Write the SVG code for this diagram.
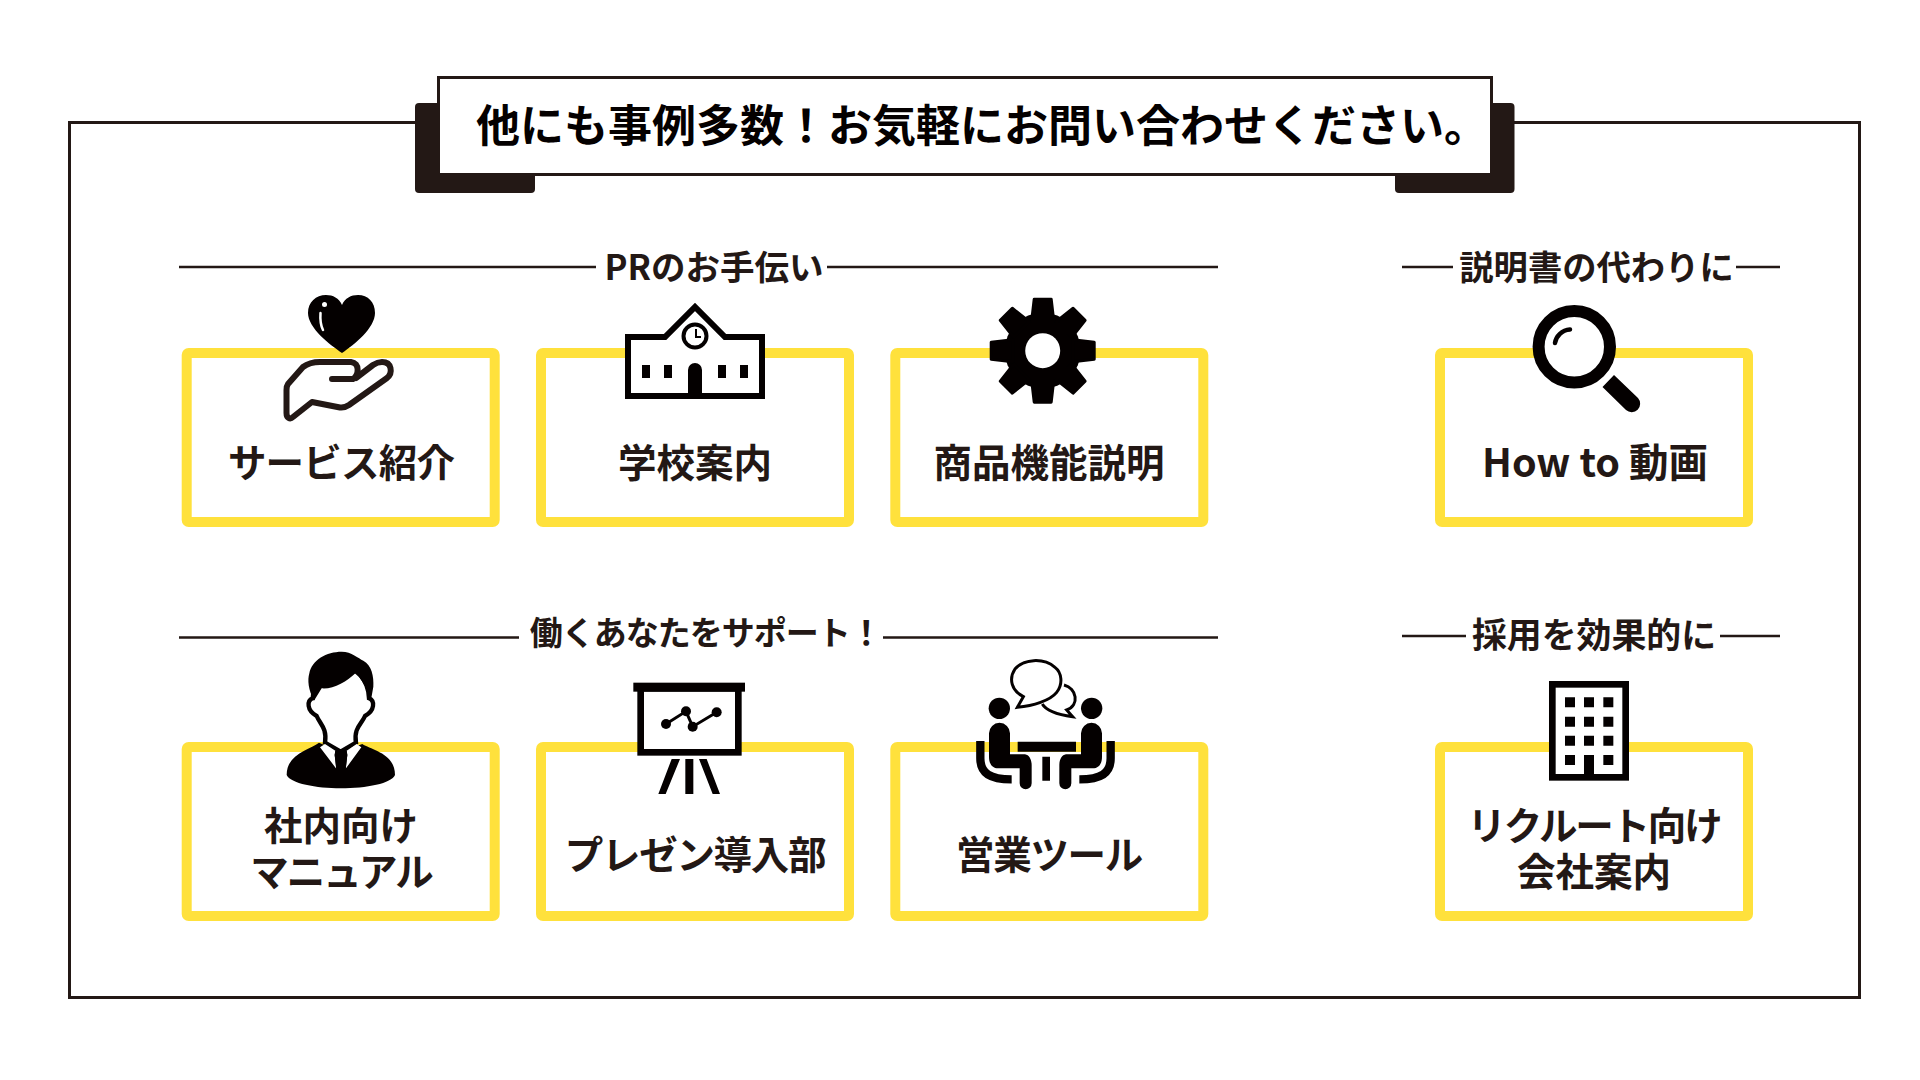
<svg xmlns="http://www.w3.org/2000/svg" width="1920" height="1080" viewBox="0 0 1920 1080">
<style>
text{font-family:"Noto Sans CJK JP","Noto Sans",sans-serif;font-weight:700;fill:#231815;text-anchor:middle}
.t{font-size:38.500px}
.s{font-size:34.300px}
.box{fill:#fff;stroke:#ffe13c;stroke-width:10}
.rule{stroke:#231815;stroke-width:2.500;fill:none}
.k{fill:#040000}
.w{fill:#fff}
.ol{fill:#fff;stroke:#040000}
</style>
<defs>
<rect id="ybox" class="box" x="0" y="0" width="308" height="169" rx="2"/>
<polygon id="tooth" class="k" stroke="#040000" stroke-width="3" stroke-linejoin="round" points="-8.500,-51.500 8.500,-51.500 11,-30 -11,-30"/>
</defs>
<rect width="1920" height="1080" fill="#fff"/>
<g id="frame">
<rect x="69.500" y="122.500" width="1790" height="875" fill="none" stroke="#231815" stroke-width="3"/>
</g>
<g id="title">
<rect x="415" y="103" width="120" height="90" rx="4" fill="#231815"/>
<rect x="1395" y="103" width="119.500" height="90" rx="4" fill="#231815"/>
<rect x="438.500" y="77.500" width="1053" height="97" fill="#fff" stroke="#231815" stroke-width="3"/>
<text x="982" y="142" style="font-size:44px;fill:#040000">他にも事例多数！お気軽にお問い合わせください。</text>
</g>
<g id="connectors">
<path class="rule" d="M179 267H596M827 267H1218M1402 267H1453M1736 267H1780M179 637.500H519M883 637.500H1218M1402 636H1466M1720 636H1780"/>
</g>
<g id="section-labels">
<text class="s" x="714" y="280" style="font-size:34.500px">PRのお手伝い</text>
<text class="s" x="1596.500" y="280">説明書の代わりに</text>
<text class="s" x="705.700" y="645" style="font-size:33px;letter-spacing:-1px">働くあなたをサポート！</text>
<text class="s" x="1594" y="648" style="font-size:34.900px">採用を効果的に</text>
</g>
<g id="node-service">
<use href="#ybox" x="186.700" y="353"/>
<path class="k" d="M342 353C330 345 308 328 308 313C308 302 316 295 326 295C333 295 339 298 342 305C345 298 351 295 358 295C368 295 375 302 375 313C375 328 354 345 342 353Z"/>
<circle class="w" cx="324.500" cy="304.500" r="2.500"/>
<path d="M320.500 313C320 320 321 326 323 330" fill="none" stroke="#fff" stroke-width="2.500" stroke-linecap="round"/>
<path d="M332 379H353C359 375 360 363 351 362H320C312 362 307 364 303 367L288 384C286.500 386 286.500 388 286.500 390V413C286.500 418 290 420 293 417L312 402L340 407.500C344 408 346 407 349 405L387 378C393 373 392 362 382 362C378 362 376 363 373 365L356 378" fill="none" stroke="#231815" stroke-width="6" stroke-linecap="round" stroke-linejoin="round"/>
<text class="t" x="341" y="477" style="letter-spacing:-.8px">サービス紹介</text>
</g>
<g id="node-school">
<use href="#ybox" x="541" y="353"/>
<path d="M628 337H665L695 307L725 337H762V396H628Z" fill="#fff" stroke="#040000" stroke-width="6"/>
<circle cx="695" cy="336" r="11.500" fill="#fff" stroke="#040000" stroke-width="4"/>
<path d="M696 329V337H701" fill="none" stroke="#040000" stroke-width="2"/>
<path class="k" d="M642 365h8v13h-8zM664 365h8v13h-8zM718 365h8v13h-8zM740 365h8v13h-8zM688 396V370a7 7 0 0 1 14 0V396Z"/>
<text class="t" x="695" y="477">学校案内</text>
</g>
<g id="node-product">
<use href="#ybox" x="895.300" y="353"/>
<g transform="translate(1042.700 350.700)">
<circle class="k" r="38"/>
<use href="#tooth"/>
<use href="#tooth" transform="rotate(45)"/>
<use href="#tooth" transform="rotate(90)"/>
<use href="#tooth" transform="rotate(135)"/>
<use href="#tooth" transform="rotate(180)"/>
<use href="#tooth" transform="rotate(225)"/>
<use href="#tooth" transform="rotate(270)"/>
<use href="#tooth" transform="rotate(315)"/>
<circle class="w" r="17.500"/>
</g>
<text class="t" x="1049" y="477">商品機能説明</text>
</g>
<g id="node-howto">
<use href="#ybox" x="1440" y="353"/>
<circle cx="1574.300" cy="346.700" r="35.700" fill="#fff" stroke="#040000" stroke-width="12"/>
<path d="M1555 343C1556 336 1562 330 1570 329.500" fill="none" stroke="#040000" stroke-width="4.500" stroke-linecap="round"/>
<path class="k" d="M1602.500 387L1614 375L1638 398A8.500 8.500 0 0 1 1626 410Z"/>
<text class="t" x="1595" y="477" style="font-size:39.500px">How to 動画</text>
</g>
<g id="node-manual">
<use href="#ybox" x="186.700" y="747"/>
<g transform="translate(170 640) scale(.33333)">
<path class="ol" stroke-width="13" d="M428 175C410 182 410 212 440 228C450 252 472 265 465 308L512 335L558 308C550 265 575 252 585 228C615 212 615 182 597 175C595 120 560 80 512 80C465 80 430 120 428 175Z"/>
<path class="k" d="M432 182C415 150 412 120 418 100C425 60 470 35 515 35C545 35 565 55 580 62C605 75 612 110 610 140L603 180C595 150 575 120 558 98C530 125 490 148 455 145Z"/>
<path class="k" d="M447 308C420 330 350 340 350 405C360 430 440 445 512 445C590 445 665 430 675 405C675 340 605 330 577 312L512 335Z"/>
<path class="w" d="M450 322L465 312L496 332L494 345L499 386ZM574 322L560 312L530 332L532 345L527 386Z"/>
<path class="k" d="M496 332L512 340L530 332L532 345L527 390H499L494 345Z"/>
</g>
<text class="t" text-anchor="middle"><tspan x="341" y="840">社内向け</tspan><tspan x="341" y="886" style="letter-spacing:-2px">マニュアル</tspan></text>
</g>
<g id="node-presentation">
<use href="#ybox" x="541" y="747"/>
<g transform="translate(600 670) scale(.33333)">
<rect x="122" y="55" width="293" height="192" fill="#fff" stroke="#040000" stroke-width="20"/>
<rect class="k" x="100" y="38" width="335" height="27"/>
<path d="M198 162L258 124L278 170L350 127" fill="none" stroke="#040000" stroke-width="9"/>
<circle class="k" cx="198" cy="162" r="15"/><circle class="k" cx="258" cy="124" r="15"/><circle class="k" cx="278" cy="170" r="15"/><circle class="k" cx="350" cy="127" r="15"/>
<path class="k" d="M215 267H240L197 372H175ZM256 267H280V372H256ZM297 267H320L360 372H338Z"/>
</g>
<text class="t" x="695" y="869" style="letter-spacing:-1.300px">プレゼン導入部</text>
</g>
<g id="node-sales">
<use href="#ybox" x="895.300" y="747"/>
<g transform="translate(960 650) scale(.33333)">
<path d="M190 140L172 172C220 167 270 152 290 127C310 102 305 67 285 52C250 22 190 27 165 57C145 87 155 122 190 140Z" fill="#fff" stroke="#040000" stroke-width="9"/>
<path d="M312 105C350 115 360 165 320 180L338 200C300 195 260 185 247 162" fill="none" stroke="#040000" stroke-width="9"/>
<circle class="k" cx="118" cy="175" r="32"/><circle class="k" cx="395" cy="175" r="32"/>
<path class="k" d="M87 250A31 31 0 0 1 150 250V313H195C208 315 215 330 215 345V400A18 18 0 0 1 179 400V355H115C95 355 87 340 87 320Z"/>
<path class="k" d="M426 250A31 31 0 0 0 363 250V313H318C305 315 298 330 298 345V400A18 18 0 0 0 334 400V355H398C418 355 426 340 426 320Z"/>
<path d="M61 273V325C61 370 90 388 155 388M452 273V325C452 370 423 388 358 388" fill="none" stroke="#040000" stroke-width="25"/>
<path class="k" d="M173 275H348V305H173ZM247 320H270V392H247Z"/>
</g>
<text class="t" x="1049" y="869" style="letter-spacing:-1.300px">営業ツール</text>
</g>
<g id="node-recruit">
<use href="#ybox" x="1440" y="747"/>
<g transform="translate(1520 670) scale(.33333)">
<rect x="97" y="43" width="220" height="279" fill="#fff" stroke="#040000" stroke-width="20"/>
<path class="k" d="M135 82h30v30h-30zM192 82h30v30h-30zM250 82h30v30h-30zM135 140h30v30h-30zM192 140h30v30h-30zM250 140h30v30h-30zM135 197h30v30h-30zM192 197h30v30h-30zM250 197h30v30h-30zM135 255h30v30h-30zM250 255h30v30h-30zM192 255h30v60h-30z"/>
</g>
<text class="t"><tspan x="1594" y="840" style="letter-spacing:-2.200px">リクルート向け</tspan><tspan x="1594" y="886">会社案内</tspan></text>
</g>
</svg>
